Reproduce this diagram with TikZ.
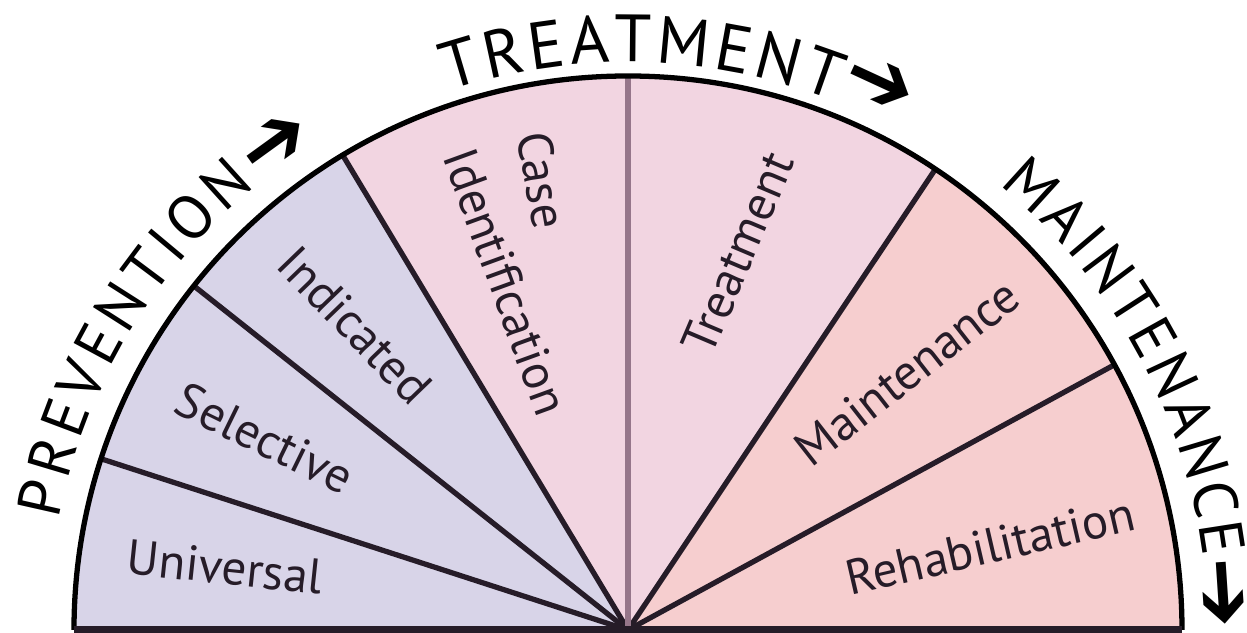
\documentclass[tikz,border=0pt]{standalone}
\usepackage{fontspec}
\setmainfont{PT Sans}
\newfontfamily\arrowfont{DejaVu Sans}
\usetikzlibrary{calc,decorations.text}

\definecolor{prevfill}{RGB}{216,212,232}
\definecolor{treatfill}{RGB}{242,213,225}
\definecolor{maintfill}{RGB}{246,206,207}
\definecolor{inkcol}{RGB}{38,28,40}
\definecolor{midcol}{RGB}{150,118,138}

\tikzset{headtext/.style n args={2}{decorate,decoration={text along path,text align={fit to path},
    text={|\fontsize{#1}{#1}\selectfont|#2}}}}

\begin{document}
\begin{tikzpicture}[
    lbl/.style={text=inkcol,font=\fontsize{14}{16}\selectfont,inner sep=0pt},
    arrowmark/.style={text=black,font=\arrowfont\fontsize{24}{26}\selectfont,inner sep=0pt},
    divider/.style={draw=inkcol,line width=1.5pt}]
    \useasboundingbox (-6.28,-0.03) rectangle (6.19,6.30);
    \def\R{5.54}
    \coordinate (o) at (0,0);
    \coordinate (left) at (180:\R);
    \coordinate (us) at (162:\R);
    \coordinate (si) at (141.6:\R);
    \coordinate (ic) at (121:\R);
    \coordinate (ct) at (90:\R);
    \coordinate (tm) at (56.3:\R);
    \coordinate (mr) at (28.6:\R);
    \coordinate (right) at (0:\R);
    % sectors
    \fill[prevfill] (o) -- (left) arc[start angle=180,end angle=121,radius=\R] -- cycle;
    \fill[treatfill] (o) -- (ic) arc[start angle=121,end angle=56.3,radius=\R] -- cycle;
    \fill[maintfill] (o) -- (tm) arc[start angle=56.3,end angle=0,radius=\R] -- cycle;
    \draw[divider](o)--(us);
    \draw[divider](o)--(si);
    \draw[divider](o)--(ic);
    \draw[divider](o)--(tm);
    \draw[divider](o)--(mr);
    \draw[draw=midcol,line width=1.8pt](o)--(ct);
    \draw[line width=1.5pt](left) arc[start angle=180,end angle=0,radius=\R];
    \draw[draw=inkcol,line width=2.2pt](left)--(right);
    % sector labels
    \node[lbl,rotate=-6](univ) at (-4.03,0.63){Universal};
    \node[lbl,rotate=-26](sel) at (-3.63,1.92){Selective};
    \node[lbl,rotate=-46](ind) at (-2.73,3.05){Indicated};
    \node[lbl,rotate=-80](case) at (-0.86,4.50){Case};
    \node[lbl,rotate=-70](ident) at (-1.22,3.48){Identification};
    \node[lbl,rotate=67](treat) at (1.10,3.77){Treatment};
    \node[lbl,rotate=38](maint) at (2.79,2.58){Maintenance};
    \node[lbl,rotate=13](rehab) at (3.62,0.84){Rehabilitation};
    % outer headings
    \path[headtext={17.5}{PREVENTION}] (169:5.80) arc[start angle=169,end angle=130,radius=5.80];
    \path[headtext={19}{TREATMENT}] (108.4:5.68) arc[start angle=108.4,end angle=68.7,radius=5.68];
    \path[headtext={17.5}{MAINTENANCE}] (50.2:5.80) arc[start angle=50.2,end angle=7.2,radius=5.80];
    \node[arrowmark,rotate=35.9](parrow) at (125.9:5.99){➔};
    \node[arrowmark,rotate=-24.8](tarrow) at (65.2:6.0){➔};
    \node[arrowmark,rotate=-86.2](marrow) at (3.6:5.93){➔};
\end{tikzpicture}
\end{document}
